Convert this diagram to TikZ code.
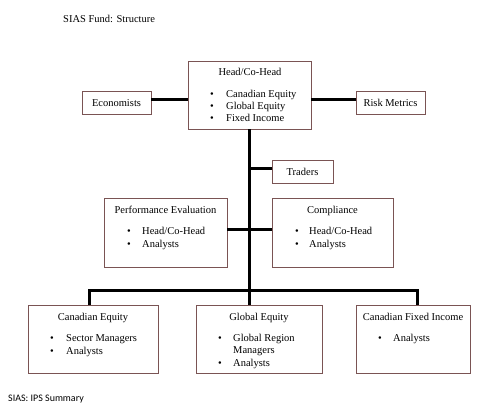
\documentclass[tikz,border=0pt]{standalone}
\usepackage{fontspec}
\setmainfont{Liberation Serif}
\newfontfamily\capfont{Carlito}
\definecolor{boxline}{RGB}{122,84,84}
\begin{document}
\begin{tikzpicture}[x=1pt,y=-1pt,
  box/.style={draw=boxline,line width=0.9pt,fill=white,inner sep=0pt,outer sep=0pt},
  conn/.style={line width=3pt,black},
  txt/.style={font=\fontsize{10.5}{12.5}\selectfont,inner sep=0pt},
  bul/.style={font=\fontsize{10.5}{12.5}\selectfont,inner sep=0pt,anchor=mid}]
\useasboundingbox (0,0) rectangle (500,412);
\fill[white] (0,0) rectangle (500,412);
% boxes
\node[box,minimum width=123pt,minimum height=68pt] (head) at (249.5,95) {};
\node[box,minimum width=69pt,minimum height=23pt] (econ) at (116.5,102.5) {};
\node[box,minimum width=69pt,minimum height=23pt] (risk) at (390.5,102.5) {};
\node[box,minimum width=61pt,minimum height=23pt] (traders) at (302.5,171.5) {};
\node[box,minimum width=123pt,minimum height=69pt] (perf) at (165.5,232.5) {};
\node[box,minimum width=121pt,minimum height=69pt] (comp) at (332.5,232.5) {};
\node[box,minimum width=130pt,minimum height=68pt] (ce) at (93,339) {};
\node[box,minimum width=126pt,minimum height=68pt] (ge) at (259,339) {};
\node[box,minimum width=114pt,minimum height=68pt] (cfi) at (413,339) {};
\coordinate (bus) at (249,290);
% connectors
\draw[conn] ([yshift=3.5pt]econ.east) -- ([yshift=3.5pt]econ.east -| head.west);
\draw[conn] ([yshift=3.5pt]risk.west) -- ([yshift=3.5pt]risk.west -| head.east);
\draw[conn] (head.south -| bus) -- (bus);
\draw[conn] ([yshift=3.5pt]traders.west) -- ([yshift=3.5pt]traders.west -| bus);
\draw[conn] ([yshift=3.5pt]perf.east) -- ([yshift=3.5pt]comp.west);
\draw[conn,line join=miter] ([xshift=-4pt]ce.north) |- (bus) -| ([xshift=4pt]cfi.north);
\draw[conn] (bus) -- (bus |- ge.north);
% titles
\node[anchor=mid west,inner sep=0pt,font=\fontsize{10.5}{12}\selectfont] (title) at (63,20) {SIAS Fund: Structure};
\node[anchor=mid west,inner sep=0pt,font=\capfont\fontsize{10}{12}\selectfont] (footer) at (8,399) {SIAS: IPS Summary};
% head
\node[txt,anchor=mid] (headt) at (250,73) {Head/Co-Head};
\node[bul] (hb1) at (212,95) {\textbullet};
\node[bul] (hb2) at (212,107) {\textbullet};
\node[bul] (hb3) at (212,119) {\textbullet};
\node[txt,anchor=mid west] (ht1) at (226,95) {Canadian Equity};
\node[txt,anchor=mid west] (ht2) at (226,107) {Global Equity};
\node[txt,anchor=mid west] (ht3) at (226,119) {Fixed Income};
% side boxes
\node[txt,anchor=mid] (econt) at (116.5,104) {Economists};
\node[txt,anchor=mid] (riskt) at (390.5,104) {Risk Metrics};
\node[txt,anchor=mid] (tradt) at (302.5,173) {Traders};
% perf
\node[txt,anchor=mid] (perft) at (165.5,211) {Performance Evaluation};
\node[bul] (pb1) at (129,232) {\textbullet};
\node[bul] (pb2) at (129,245) {\textbullet};
\node[txt,anchor=mid west] (pt1) at (142,232) {Head/Co-Head};
\node[txt,anchor=mid west] (pt2) at (142,245) {Analysts};
% compliance
\node[txt,anchor=mid] (compt) at (332.5,211) {Compliance};
\node[bul] (cb1) at (297,232) {\textbullet};
\node[bul] (cb2) at (297,245) {\textbullet};
\node[txt,anchor=mid west] (ct1) at (309,232) {Head/Co-Head};
\node[txt,anchor=mid west] (ct2) at (309,245) {Analysts};
% canadian equity
\node[txt,anchor=mid] (cet) at (93,318) {Canadian Equity};
\node[bul] (eb1) at (52,339) {\textbullet};
\node[bul] (eb2) at (52,352) {\textbullet};
\node[txt,anchor=mid west] (et1) at (66,339) {Sector Managers};
\node[txt,anchor=mid west] (et2) at (66,352) {Analysts};
% global equity
\node[txt,anchor=mid] (get) at (259,318) {Global Equity};
\node[bul] (gb1) at (220,339) {\textbullet};
\node[bul] (gb2) at (220,364) {\textbullet};
\node[txt,anchor=mid west] (gt1) at (233,339) {Global Region};
\node[txt,anchor=mid west] (gt2) at (233,351) {Managers};
\node[txt,anchor=mid west] (gt3) at (233,364) {Analysts};
% canadian fixed income
\node[txt,anchor=mid] (cfit) at (413,318) {Canadian Fixed Income};
\node[bul] (fb1) at (380,339) {\textbullet};
\node[txt,anchor=mid west] (ft1) at (393,339) {Analysts};
\end{tikzpicture}
\end{document}
